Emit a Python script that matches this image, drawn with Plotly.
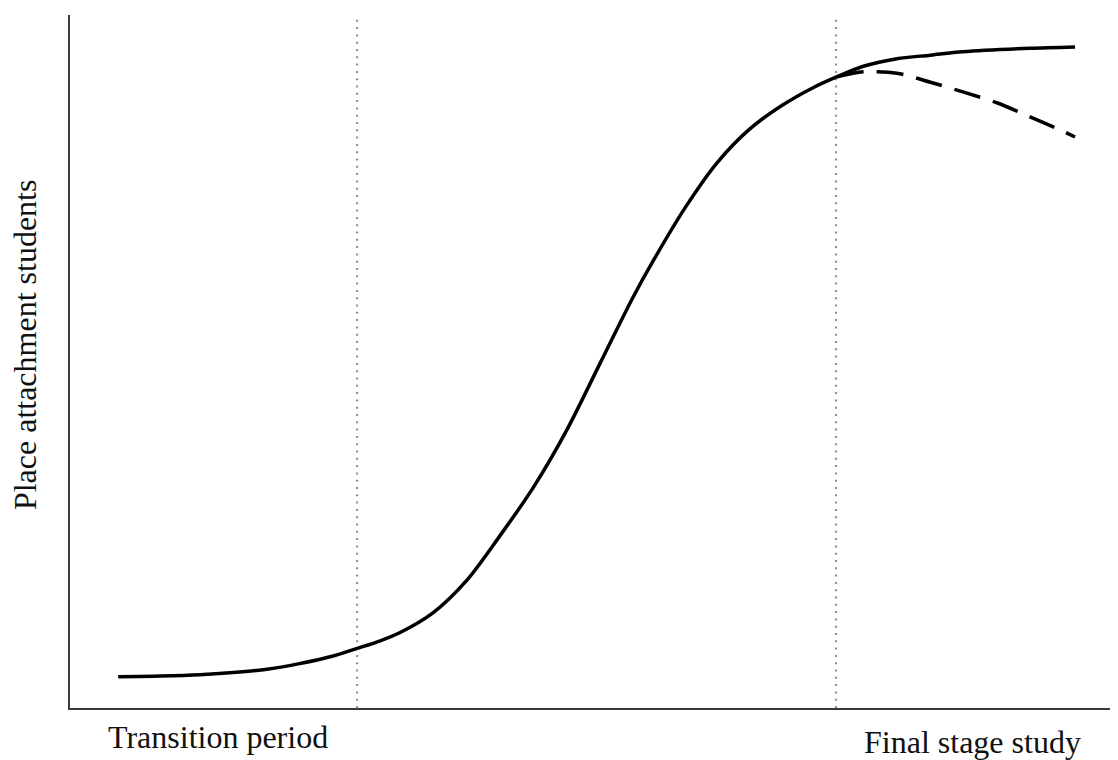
import plotly.graph_objects as go

# Stage of study (0-100) and place attachment level (0-100)
stage = [4.6, 8.6, 12.4, 16.2, 18.8, 21.9, 25.1, 27.4, 29.6, 31.5, 34.6, 37.9,
         41.0, 44.2, 47.4, 50.6, 53.7, 55.6, 58.7, 61.7, 64.9, 68.0, 70.9, 73.2,
         75.7, 78.9, 82.1, 85.2, 91.6, 95.9]
attachment = [4.5, 4.6, 4.8, 5.2, 5.6, 6.4, 7.5, 8.6, 9.7, 10.9, 13.7, 18.5,
              24.8, 31.8, 40.1, 49.8, 59.2, 64.4, 72.2, 78.6, 83.6, 87.0, 89.5, 91.1,
              92.6, 93.7, 94.2, 94.7, 95.2, 95.4]

# Alternative (declining) path after the final stage begins
stage_alt = [73.2, 75.7, 78.9, 82.1, 85.2, 88.5, 91.6, 94.5, 95.9]
attachment_alt = [91.1, 91.8, 91.6, 90.3, 88.9, 87.3, 85.3, 83.4, 82.4]

# Phase boundaries
phase_marks = [27.4, 73.1]

labels = {"y": "Place attachment students",
          "start": "Transition period",
          "end": "Final stage study"}

fig = go.Figure()
fig.add_trace(go.Scatter(x=stage, y=attachment, mode="lines",
                         line=dict(color="black", width=3.5, shape="spline", smoothing=0.8),
                         showlegend=False, hoverinfo="skip"))
fig.add_trace(go.Scatter(x=stage_alt, y=attachment_alt, mode="lines",
                         line=dict(color="black", width=3.5, shape="spline", smoothing=0.8,
                                   dash="27px,13px"),
                         showlegend=False, hoverinfo="skip"))

for xm in phase_marks:
    fig.add_shape(type="line", xref="x", yref="y", x0=xm, x1=xm, y0=0, y1=99.6,
                  line=dict(color="#8a8a8a", width=2, dash="2px,5.3px"), layer="below")

font = dict(family="Liberation Serif, Times New Roman, serif", size=32, color="#111111")
fig.add_annotation(text=labels["start"], x=14.1, xref="x", y=-0.042, yref="paper",
                   xanchor="center", yanchor="middle", showarrow=False, font=font)
fig.add_annotation(text=labels["end"], x=86.1, xref="x", y=-0.049, yref="paper",
                   xanchor="center", yanchor="middle", showarrow=False, font=font)
fig.add_annotation(text=labels["y"], x=-0.043, xref="paper", y=0.525, yref="paper",
                   textangle=-90, xanchor="center", yanchor="middle",
                   showarrow=False, font=font)

fig.update_layout(
    width=1110, height=752,
    margin=dict(l=62, r=0, t=7, b=52),
    paper_bgcolor="white", plot_bgcolor="white",
    xaxis=dict(range=[0, 100], showline=True, linewidth=2, linecolor="#3a3a3a",
               showgrid=False, zeroline=False, showticklabels=False, ticks=""),
    yaxis=dict(range=[0, 100], showline=True, linewidth=2, linecolor="#3a3a3a",
               showgrid=False, zeroline=False, showticklabels=False, ticks=""),
)

fig.write_html("out.html")
